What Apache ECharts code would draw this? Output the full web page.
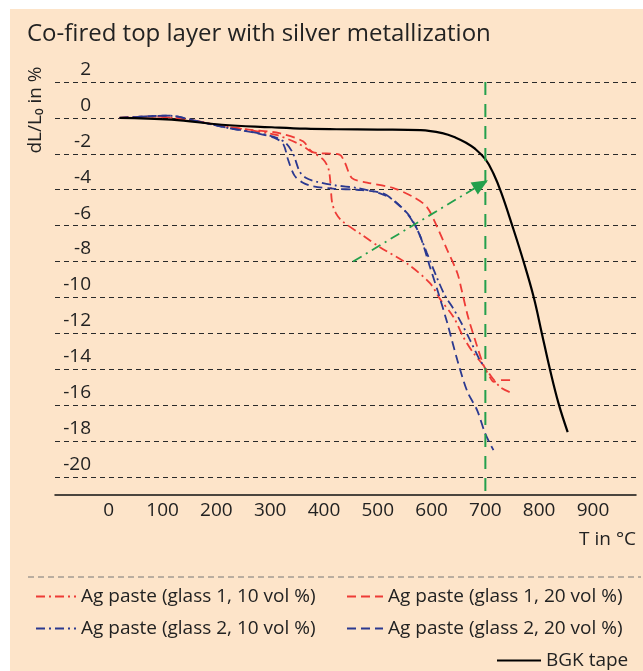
<!DOCTYPE html>
<html><head><meta charset="utf-8">
<script src="https://cdn.jsdelivr.net/npm/echarts@6/dist/echarts.min.js"></script>
<style>
html,body{margin:0;padding:0;background:#fff;}
#bg{position:absolute;left:10px;top:9px;width:633px;height:662px;background:#FDE4C9;}
#chart{position:absolute;left:0;top:0;width:643px;height:671px;}
</style></head><body>
<div id="bg"></div><div id="chart"></div>
<script>
const chartTitle = 'Co-fired top layer with silver metallization';
const yAxisTitle = 'dL/L\u2080 in %';
const xAxisTitle = 'T in \u00b0C';
const seriesNames = [
  'Ag paste (glass 1, 10 vol %)',
  'Ag paste (glass 1, 20 vol %)',
  'Ag paste (glass 2, 10 vol %)',
  'Ag paste (glass 2, 20 vol %)',
  'BGK tape'
];
// [T in °C, dL/L0 in %]
const glass1_10 = [[20,0],[80,0.08],[149,-0.1],[210,-0.45],[260,-0.67],[311,-0.95],[350,-1.4],[375,-1.85],[398,-2.3],[408,-2.8],[412,-3.6],[415,-4.7],[422,-5.3],[434,-5.75],[470,-6.5],[504,-7.2],[554,-8.1],[597,-9.2],[616,-10.1],[641,-11.1],[659,-12.2],[678,-13.1],[697,-13.8],[706,-14.2],[728,-15.0],[748,-15.3]];
const glass1_20 = [[20,0],[80,0.08],[149,-0.1],[210,-0.45],[260,-0.65],[317,-0.85],[361,-1.3],[379,-1.9],[429,-2.05],[439,-2.5],[452,-3.35],[480,-3.6],[528,-3.9],[566,-4.4],[591,-4.95],[610,-6.05],[629,-7.35],[648,-8.65],[656,-9.6],[668,-11.1],[685,-12.75],[697,-13.8],[706,-14.3],[716,-14.7],[730,-14.6],[746,-14.6]];
const glass2_10 = [[20,0],[111,0.13],[167,-0.2],[223,-0.57],[275,-0.83],[311,-1.1],[329,-1.4],[342,-1.95],[355,-3.0],[367,-3.35],[386,-3.55],[420,-3.75],[461,-3.9],[504,-4.2],[528,-4.55],[554,-5.3],[573,-6.2],[591,-7.5],[610,-8.9],[625,-9.9],[640,-10.6],[655,-11.4],[672,-12.4],[690,-13.5],[700,-13.9]];
const glass2_20 = [[20,0],[111,0.13],[167,-0.2],[223,-0.57],[275,-0.85],[311,-1.15],[325,-1.5],[333,-2.3],[345,-3.2],[360,-3.6],[379,-3.8],[420,-3.95],[461,-4.0],[510,-4.2],[535,-4.75],[560,-5.5],[579,-6.6],[597,-8.3],[612,-9.7],[629,-11.4],[648,-13.5],[666,-15.2],[685,-16.3],[700,-17.6],[715,-18.5]];
const bgkTape = [[20,0],[117,-0.1],[210,-0.38],[303,-0.52],[366,-0.6],[423,-0.63],[500,-0.65],[580,-0.68],[620,-0.85],[645,-1.1],[665,-1.4],[680,-1.7],[700,-2.3],[715,-3.1],[730,-4.2],[750,-6.0],[770,-7.9],[790,-10.0],[805,-12.0],[820,-14.0],[836,-15.9],[853,-17.5]];
const markerTemp = [[700,2],[700,-21]];
const arrowFrom = [454,-8.0];
const arrowTo = [692,-3.7];
const xTicks = [0,100,200,300,400,500,600,700,800,900];

const FONT = 'Open Sans';
const RED = '#ee3b36', BLUE = '#2b3990', GREEN = '#23a04c', TXT = '#222';

const chart = echarts.init(document.getElementById('chart'), null, {renderer:'canvas'});

function lineSeries(name, data, color, dash, width, smooth){
  return {
    name, type:'line', data, xAxisIndex:0, yAxisIndex:0,
    symbol:'none', showSymbol:false, smooth:smooth,
    lineStyle:{color, width, type:dash}, itemStyle:{color},
    z:3, animation:false
  };
}
function legendAt(name, left, top, w){
  return {data:[name], left, top, itemWidth:w, itemHeight:14, padding:0,
    selectedMode:false, itemStyle:{opacity:0},
    textStyle:{fontFamily:FONT, fontSize:19, color:TXT}};
}

chart.setOption({
  animation:false,
  backgroundColor:'transparent',
  textStyle:{fontFamily:FONT},
  title:{text:chartTitle, left:22, top:17, textStyle:{fontFamily:FONT, fontSize:24, fontWeight:'normal', color:TXT}},
  grid:[
    {left:55, right:7, top:82, height:413},
    {left:55, right:7, top:82, height:395}
  ],
  xAxis:[
    {gridIndex:0, type:'value', min:-100, max:980, interval:100,
     axisLine:{show:true, onZero:false, lineStyle:{color:'#111', width:1.5}},
     axisTick:{show:false}, splitLine:{show:false},
     axisLabel:{fontFamily:FONT, fontSize:19, color:TXT, margin:6,
       formatter:v => xTicks.indexOf(v) >= 0 ? String(v) : ''},
     name:xAxisTitle, nameLocation:'end', nameGap:0,
     nameTextStyle:{fontFamily:FONT, fontSize:19, color:TXT, align:'right', verticalAlign:'top', padding:[35,0,0,0]}
    },
    {gridIndex:1, type:'value', min:-100, max:980, show:false}
  ],
  yAxis:[
    {gridIndex:0, type:'value', min:-21, max:2, show:false, splitLine:{show:false}},
    {gridIndex:1, type:'value', min:-20, max:2, interval:2,
     axisLine:{show:false}, axisTick:{show:false},
     splitLine:{show:true, lineStyle:{color:'#2a2a2a', width:1, type:[5,4]}},
     axisLabel:{inside:true, margin:36, align:'right', verticalAlign:'bottom', padding:[0,0,3,0],
       fontFamily:FONT, fontSize:19, color:TXT}
    }
  ],
  legend:[
    legendAt(seriesNames[0], 35, 587, 40),
    legendAt(seriesNames[1], 346, 587, 36),
    legendAt(seriesNames[2], 35, 619, 40),
    legendAt(seriesNames[3], 346, 619, 36),
    legendAt(seriesNames[4], 496, 651, 44)
  ],
  graphic:[
    {type:'text', x:36, y:110, rotation:Math.PI/2,
     style:{text:yAxisTitle, fontFamily:FONT, fontSize:19, fill:TXT, textAlign:'center', textVerticalAlign:'middle'}},
    {type:'line', shape:{x1:28, y1:577, x2:641, y2:577},
     style:{stroke:'#777', lineWidth:1, lineDash:[6,4]}}
  ],
  series:[
    lineSeries(seriesNames[0], glass1_10, RED, [9,4,2,4], 1.8, 0.3),
    lineSeries(seriesNames[1], glass1_20, RED, [9,5], 1.8, 0.3),
    lineSeries(seriesNames[2], glass2_10, BLUE, [9,4,2,4], 1.8, 0.3),
    lineSeries(seriesNames[3], glass2_20, BLUE, [9,5], 1.8, 0.3),
    lineSeries(seriesNames[4], bgkTape, '#000', 'solid', 2.2, 0.4),
    {name:'700 °C', type:'line', data:markerTemp, xAxisIndex:0, yAxisIndex:0, symbol:'none',
     lineStyle:{color:GREEN, width:2, type:[13,9]}, z:4,
     markLine:{silent:true, symbol:['none','triangle'], symbolSize:[14,16],
       label:{show:false},
       lineStyle:{color:GREEN, width:1.8, type:[10,5,2,5]},
       data:[[{coord:arrowFrom},{coord:arrowTo}]]}
    }
  ]
});
</script>
</body></html>
